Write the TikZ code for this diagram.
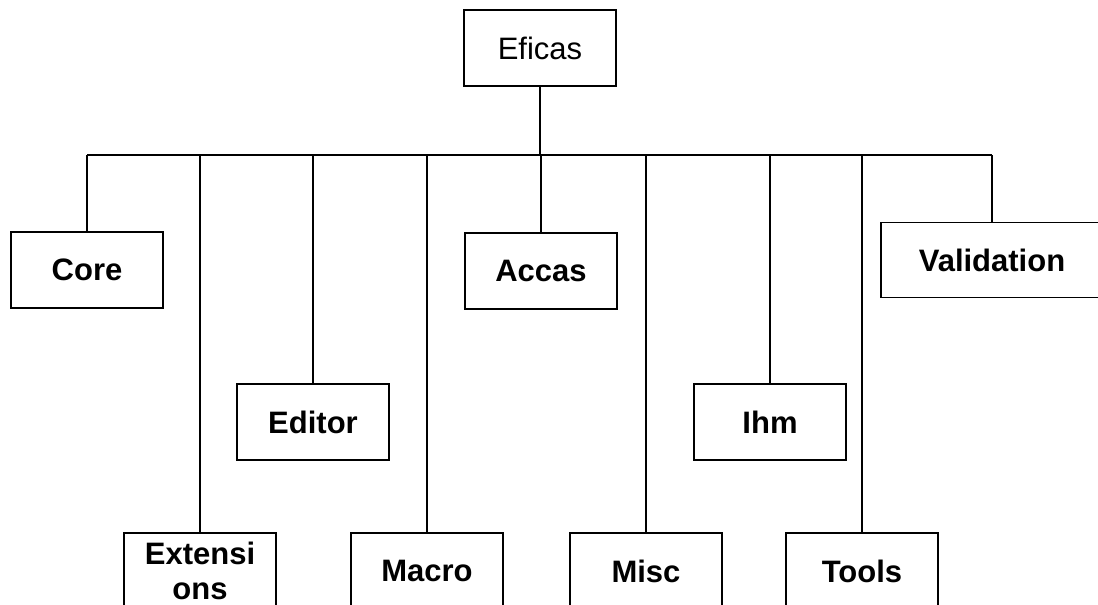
\documentclass[tikz,border=0pt]{standalone}
\usepackage{fontspec}
\setmainfont{Liberation Sans}
\usetikzlibrary{positioning}

\newcommand{\boxfont}{\fontsize{31}{35}\selectfont}

\begin{document}
\begin{tikzpicture}[x=1pt, y=-1pt, line width=1.6pt,
  pkg/.style={draw=black, fill=white, minimum width=152pt, minimum height=76pt, inner sep=2pt, align=center, font=\boxfont\bfseries},
  top/.style={pkg, font=\boxfont}]
\useasboundingbox (0,0) rectangle (1098,605);
\clip (0,0) rectangle (1098,605);

%\draw[step=50,gray,very thin] (0,0) grid (1098,605);

\node[top] (eficas) at (540,48) {Eficas};

% first row
\node[pkg] (core) at (87,270) {Core};
\node[pkg] (accas) at (541,271) {Accas};
\node[pkg, minimum width=222pt, minimum height=75pt] (validation) at (992,260) {Validation};

% second row
\node[pkg] (editor) at (313,422) {Editor};
\node[pkg] (ihm) at (770,422) {Ihm};

% bottom row, cut by the page
\node[pkg] (extensions) at (200,571) {Extensi\\ons};
\node[pkg] (macro) at (427,571) {Macro};
\node[pkg] (misc) at (646,571) {Misc};
\node[pkg] (tools) at (862,571) {Tools};

\coordinate (bus) at (0,155);

\draw (eficas.south) -- (eficas.south |- bus);
\draw (core.north |- bus) -- (validation.north |- bus);
\foreach \n in {core, extensions, editor, macro, accas, misc, ihm, tools, validation}
  \draw (\n.north) -- (\n.north |- bus);

\end{tikzpicture}
\end{document}
